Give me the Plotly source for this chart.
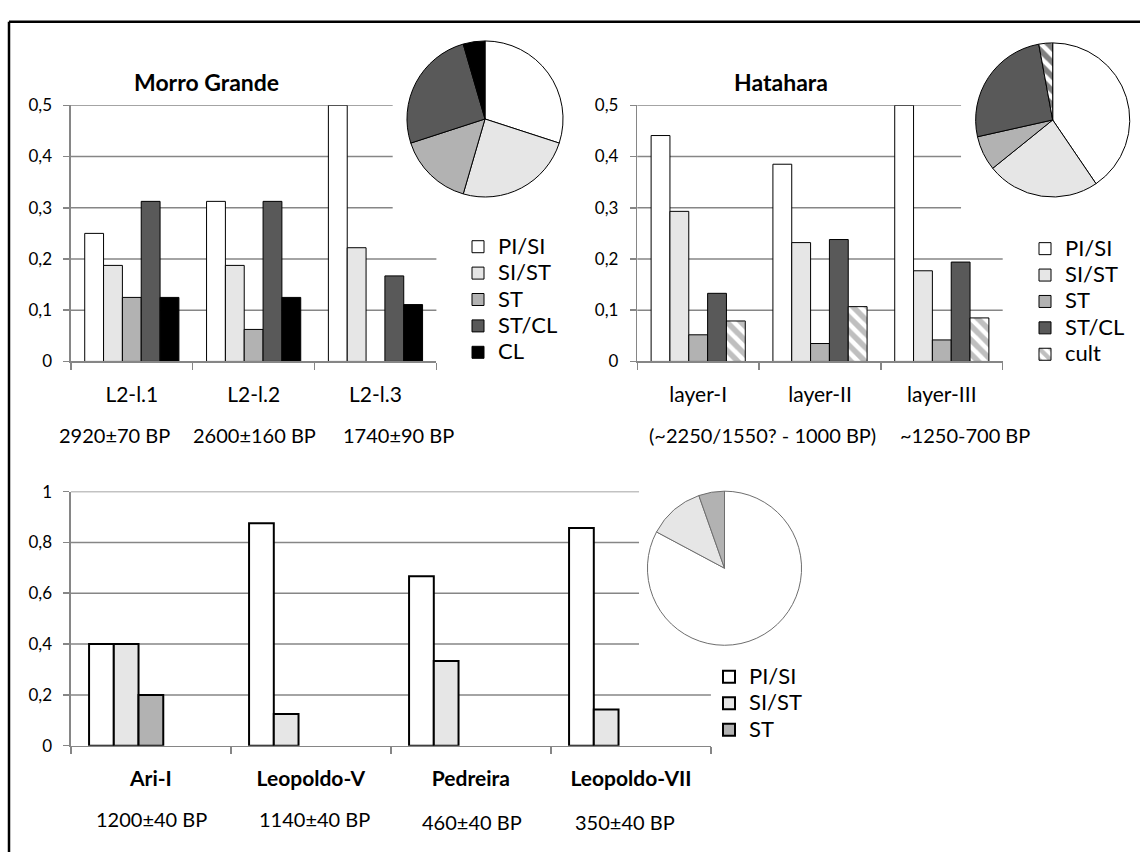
import plotly.graph_objects as go

W, H = 1140, 852
FONT = "Lato"

# ---------------- data ----------------
series_top = ["PI/SI", "SI/ST", "ST", "ST/CL", "CL"]
series_hat = ["PI/SI", "SI/ST", "ST", "ST/CL", "cult"]
series_bot = ["PI/SI", "SI/ST", "ST"]

mg_layers = ["L2-l.1", "L2-l.2", "L2-l.3"]
mg_dates = ["2920±70 BP", "2600±160 BP", "1740±90 BP"]
mg_pi_si = [0.25, 0.3125, 0.5]
mg_si_st = [0.1875, 0.1875, 0.222]
mg_st = [0.125, 0.0625, None]
mg_st_cl = [0.3125, 0.3125, 0.167]
mg_cl = [0.125, 0.125, 0.111]
mg_pie = [0.30, 0.245, 0.155, 0.255, 0.045]

ha_layers = ["layer-I", "layer-II", "layer-III"]
ha_dates = ["(~2250/1550? - 1000 BP)", "~1250-700 BP"]
ha_pi_si = [0.441, 0.385, 0.5]
ha_si_st = [0.293, 0.232, 0.177]
ha_st = [0.052, 0.035, 0.042]
ha_st_cl = [0.133, 0.238, 0.194]
ha_cult = [0.079, 0.107, 0.085]
ha_pie = [0.405, 0.237, 0.073, 0.256, 0.029]

sites = ["Ari-I", "Leopoldo-V", "Pedreira", "Leopoldo-VII"]
site_dates = ["1200±40 BP", "1140±40 BP", "460±40 BP", "350±40 BP"]
st_pi_si = [0.4, 0.875, 0.667, 0.857]
st_si_st = [0.4, 0.125, 0.333, 0.143]
st_st = [0.2, None, None, None]
st_empty = [0, 0, 0, 0]
st_pie = [0.828, 0.118, 0.054]

top_ticks = [0.1, 0.2, 0.3, 0.4, 0.5]
bot_ticks = [0.2, 0.4, 0.6, 0.8, 1.0]

# ---------------- styles ----------------
C_WHITE, C_LIGHT, C_MID, C_DARK, C_BLACK = "#ffffff", "#e6e6e6", "#b2b2b2", "#595959", "#000000"
GRID = "#868686"
HATCH = dict(shape="\\", fgcolor="#808080", bgcolor="#ffffff", size=10, solidity=0.55)
LEG_TXT = 22


def px(x):
    return x / W


def py(y):
    return 1 - y / H


def leg_name(n):
    return f"<span style='font-size:{LEG_TXT}px'>{n}</span>"


fig = go.Figure()


def add_bar(x, y, name, color, axis, legend, lw=1, pattern=None, show=True):
    marker = dict(color=color, line=dict(color="black", width=lw))
    if pattern:
        marker["pattern"] = pattern
    fig.add_trace(go.Bar(x=x, y=y, name=leg_name(name), marker=marker,
                         xaxis="x" + axis, yaxis="y" + axis, legend=legend,
                         showlegend=show, hoverinfo="skip"))


# Morro Grande
for vals, nm, col in zip([mg_pi_si, mg_si_st, mg_st, mg_st_cl, mg_cl], series_top,
                         [C_WHITE, C_LIGHT, C_MID, C_DARK, C_BLACK]):
    add_bar(mg_layers, vals, nm, col, "", "legend")

# Hatahara
for vals, nm, col in zip([ha_pi_si, ha_si_st, ha_st, ha_st_cl], series_hat[:4],
                         [C_WHITE, C_LIGHT, C_MID, C_DARK]):
    add_bar(ha_layers, vals, nm, col, "2", "legend2")
add_bar(ha_layers, ha_cult, "cult", C_WHITE, "2", "legend2", pattern=HATCH)

# Sites
for vals, nm, col in zip([st_pi_si, st_si_st, st_st], series_bot, [C_WHITE, C_LIGHT, C_MID]):
    add_bar(sites, vals, nm, col, "3", "legend3", lw=2)
add_bar(sites, st_empty, "ST/CL", C_DARK, "3", "legend3", lw=0, show=False)
add_bar(sites, st_empty, "CL", C_BLACK, "3", "legend3", lw=0, show=False)

# Pies
fig.add_trace(go.Pie(values=mg_pie, labels=series_top, sort=False, direction="clockwise",
                     rotation=0, textinfo="none", hoverinfo="skip", showlegend=False,
                     domain=dict(x=[px(405), px(565)], y=[py(190.7), py(30.7)]),
                     marker=dict(colors=[C_WHITE, C_LIGHT, C_MID, C_DARK, C_BLACK],
                                 line=dict(color="black", width=1))))
fig.add_trace(go.Pie(values=ha_pie, labels=series_hat, sort=False, direction="clockwise",
                     rotation=0, textinfo="none", hoverinfo="skip", showlegend=False,
                     domain=dict(x=[px(973.7), px(1131.7)], y=[py(190.7), py(32.7)]),
                     marker=dict(colors=[C_WHITE, C_LIGHT, C_MID, C_DARK, C_WHITE],
                                 pattern=dict(shape=["", "", "", "", "\\"], fgcolor="#808080",
                                              size=10, solidity=0.55),
                                 line=dict(color="black", width=1))))
fig.add_trace(go.Pie(values=st_pie, labels=series_bot, sort=False, direction="clockwise",
                     rotation=0, textinfo="none", hoverinfo="skip", showlegend=False,
                     domain=dict(x=[px(645.5), px(803.5)], y=[py(650.3), py(492.3)]),
                     marker=dict(colors=[C_WHITE, C_LIGHT, C_MID],
                                 line=dict(color="#6e6e6e", width=1))))


def xax(dom, anchor, bold=False):
    f = dict(family=FONT, size=21, color="black")
    if bold:
        f["weight"] = 700
    return dict(domain=dom, anchor=anchor, type="category", tickson="boundaries",
                ticks="outside", ticklen=7, tickwidth=1.5, tickcolor=GRID,
                showgrid=False, showline=True, linecolor=GRID, linewidth=1.5,
                tickfont=f, ticklabelstandoff=14, fixedrange=True)


def yax(dom, anchor, rng, dt):
    return dict(domain=dom, anchor=anchor, range=rng, dtick=dt, showgrid=False,
                showline=True, linecolor=GRID, linewidth=1.5,
                ticks="outside", ticklen=6, tickwidth=1.5, tickcolor=GRID, zeroline=False,
                tickfont=dict(family=FONT, size=17, color="black"), ticklabelstandoff=8,
                fixedrange=True)


top_y = [py(359.3), py(96.7)]
bot_y = [py(753.3), py(492.7)]

legend_common = dict(xanchor="left", yanchor="top", bgcolor="rgba(0,0,0,0)",
                     font=dict(family=FONT, size=18, color="black"), tracegroupgap=0,
                     traceorder="normal", itemclick=False, itemdoubleclick=False)

fig.update_layout(
    width=W, height=H, margin=dict(l=0, r=0, t=0, b=0),
    paper_bgcolor="white", plot_bgcolor="white",
    separators=", ", barmode="group", bargap=0.227, bargroupgap=0,
    font=dict(family=FONT, color="black"),
    xaxis=xax([px(70.9), px(436.4)], "y"),
    yaxis=yax(top_y, "x", [0, 0.5], 0.1),
    xaxis2=xax([px(637.3), px(1002.7)], "y2"),
    yaxis2=yax(top_y, "x2", [0, 0.5], 0.1),
    xaxis3=xax([px(70.9), px(710.9)], "y3", bold=True),
    yaxis3=yax(bot_y, "x3", [0, 1], 0.2),
    legend=dict(x=px(458), y=py(223), **legend_common),
    legend2=dict(x=px(1025), y=py(225), **legend_common),
    legend3=dict(x=px(709), y=py(664), **legend_common),
)

# horizontal gridlines (the upper ones stop where the pie panel begins)
for ax, ticks, cut_val, cut_x in [("", top_ticks, 0.3, 0.8804),
                                  ("2", top_ticks, 0.3, 0.886),
                                  ("3", bot_ticks, 0.4, 0.8877)]:
    for v in ticks:
        fig.add_shape(type="line", layer="below", xref=f"x{ax} domain", yref=f"y{ax}",
                      x0=0, x1=cut_x if v >= cut_val - 1e-9 else 1, y0=v, y1=v,
                      line=dict(color=GRID, width=1.5))

# outer frame (top and left edges visible)
fig.add_shape(type="line", xref="paper", yref="paper", x0=px(9), x1=1.02, y0=py(11), y1=py(11),
              line=dict(color="black", width=2.5))
fig.add_shape(type="line", xref="paper", yref="paper", x0=px(9), x1=px(9), y0=py(11), y1=-0.02,
              line=dict(color="black", width=2.5))

# titles
for txt, cx in [("Morro Grande", 206), ("Hatahara", 781)]:
    fig.add_annotation(text=txt, x=px(cx), y=py(73), xref="paper", yref="paper",
                       showarrow=False, xanchor="center", yanchor="middle",
                       font=dict(family=FONT, size=23, color="black", weight=700))

# date labels
date_pos = list(zip(mg_dates, [114.5, 254.5, 398], [435] * 3)) + \
    list(zip(ha_dates, [762, 965], [435] * 2)) + \
    list(zip(site_dates, [151, 314.5, 472, 624.5], [828, 828, 831.7, 831.7]))
for txt, cx, cy in date_pos:
    fig.add_annotation(text=txt, x=px(cx), y=py(cy), xref="paper", yref="paper",
                       showarrow=False, xanchor="center", yanchor="middle",
                       font=dict(family=FONT, size=20, color="black"))

fig.write_html(
    "out.html",
    config={"displayModeBar": False, "staticPlot": True},
    post_script=("document.body.style.margin='0';document.body.style.overflow='hidden';"
                 "var d=document.getElementById('{plot_id}');"
                 "d.style.position='fixed';d.style.left='0px';d.style.top='0px';"),
)
